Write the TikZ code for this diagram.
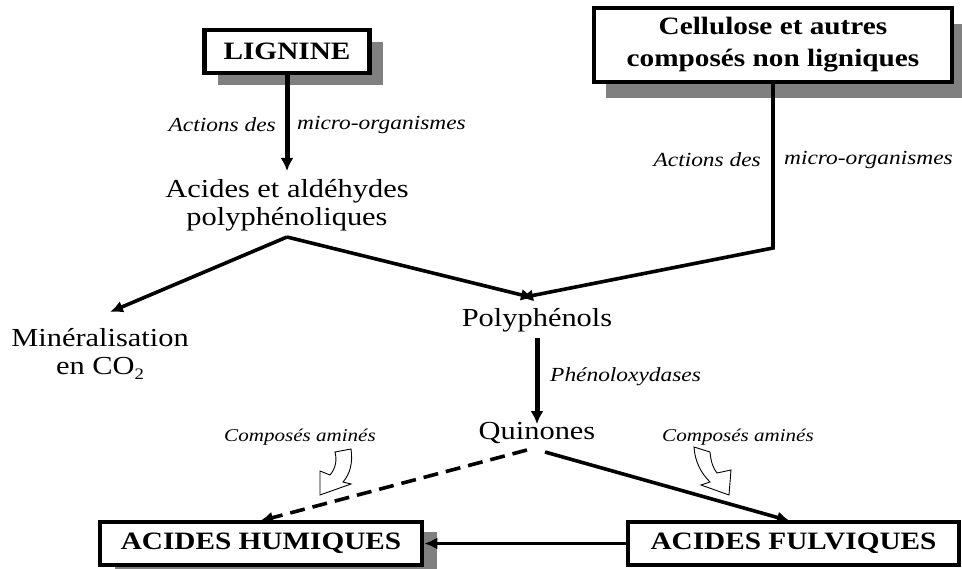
\documentclass[tikz,border=0pt]{standalone}
\usepackage{fontspec}
\setmainfont{Liberation Serif}[FakeStretch=1.17]
\usetikzlibrary{arrows.meta,shadows}
\definecolor{shade}{RGB}{128,128,128}
\tikzset{
  boxed/.style={draw=black, line width=4.5pt, fill=white, inner sep=0pt, font=\fontsize{25}{29}\selectfont\bfseries},
  shaded/.style 2 args={drop shadow={shadow xshift=#1pt, shadow yshift=-#2pt, fill=shade, opacity=1}},
  plain/.style={inner sep=0pt, align=center, font=\fontsize{26}{28}\selectfont},
  note/.style={inner sep=0pt, font=\fontsize{20}{22}\selectfont\itshape},
  smallnote/.style={inner sep=0pt, font=\fontsize{18}{20}\selectfont\itshape},
  flow/.style={line width=3.6pt, -{Latex[length=13pt,width=12pt]}},
  bigflow/.style={line width=5pt, -{Latex[length=13pt,width=13pt]}},
  hollow/.style={draw=black, line width=0.9pt, fill=white, line join=miter}
}
\begin{document}
\begin{tikzpicture}[x=1pt,y=-1pt]
\useasboundingbox (0,0) rectangle (962,569);

% boxes with their grey shadows
\node[boxed, shaded={13}{12}, minimum width=165pt, minimum height=43pt] (lig) at (287,51.5) {LIGNINE};
\node[boxed, shaded={12}{16}, minimum width=358pt, minimum height=74pt, align=center, font=\fontsize{25}{32}\selectfont\bfseries] (cel) at (773,45) {Cellulose et autres\\composés non ligniques};
\node[boxed, shaded={15}{10}, minimum width=322pt, minimum height=43pt] (hum) at (261,543.5) {ACIDES HUMIQUES};
\node[boxed, minimum width=331pt, minimum height=43pt] (ful) at (793.5,543.5) {ACIDES FULVIQUES};

% plain labels
\node[plain] (aci) at (287,205) {Acides et aldéhydes\\polyphénoliques};
\node[plain] (min) at (100,354) {Minéralisation\\en CO\raisebox{-0.45ex}{\fontsize{16}{16}\selectfont 2}};
\node[plain] (pol) at (537,320) {Polyphénols};
\node[plain] (qui) at (537,433) {Quinones};

% italic annotations
\node[note, anchor=east] (a1) at (276,125) {Actions des};
\node[note, anchor=west] (m1) at (297,125) {micro-organismes};
\node[note, anchor=east] (a2) at (761,160) {Actions des};
\node[note, anchor=west] (m2) at (784,160) {micro-organismes};
\node[note, anchor=west] (phe) at (550,377) {Phénoloxydases};
\node[smallnote] (ca1) at (300,437) {Composés aminés};
\node[smallnote] (ca2) at (738,437) {Composés aminés};

% connector points
\coordinate (apex) at (287,237);
\coordinate (ltip) at (110,312);
\coordinate (rtip) at (534,298);
\coordinate (ctip) at (520,298);
\coordinate (corner) at (773,248);
\coordinate (ligend) at (287,171);
\coordinate (qleft) at (527,450);
\coordinate (qright) at (545,452);
\coordinate (htip) at (260,521);
\coordinate (ftip) at (790,521);

% connectors
\draw[bigflow] (lig.south) -- (ligend);
\draw[flow] (apex) -- (ltip);
\draw[flow] (apex) -- (rtip);
\draw[flow, line join=miter] (cel.south) -- (corner) -- (ctip);
\draw[bigflow] (pol.south) ++(0,6) -- ([yshift=-2pt]qui.north);
\draw[flow, dash pattern=on 15pt off 8pt] (qleft) -- (htip);
\draw[flow] (qright) -- (ftip);
\draw[flow] (ful.west) -- (hum.east);

% curved hollow arrows for the amine compounds
\draw[hollow] (335,452) -- (351,449) .. controls (353,463) and (350,474) .. (343,482)
  -- (351,484) -- (320,495) -- (320,471) -- (330,475)
  .. controls (336,468) and (337,460) .. cycle;
\draw[hollow] (694,447) -- (710,452) .. controls (711,462) and (713,468) .. (717,473)
  -- (731,470) -- (729,495) -- (701,485) -- (710,482)
  .. controls (701,473) and (695,462) .. cycle;
\end{tikzpicture}
\end{document}
